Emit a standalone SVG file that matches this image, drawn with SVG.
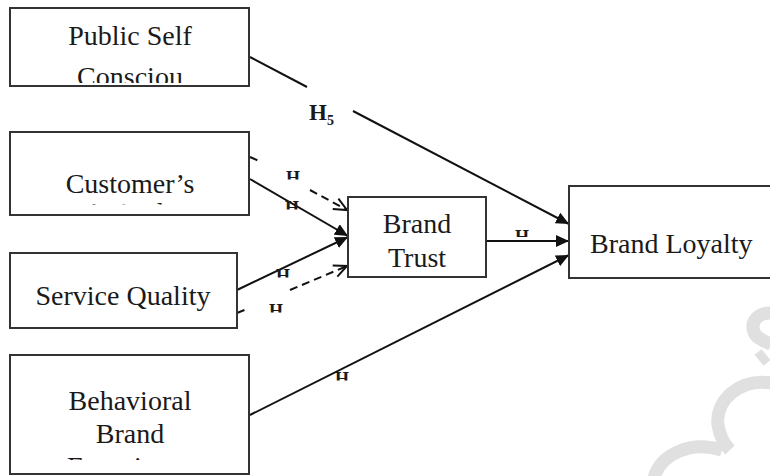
<svg xmlns="http://www.w3.org/2000/svg" width="770" height="476" viewBox="0 0 770 476">
<style>
.box{fill:#fff;stroke:#333;stroke-width:2}
.t{font-family:"Liberation Serif","Times New Roman",serif;font-size:28px;fill:#1a1a1a}
.h{font-family:"Liberation Serif","Times New Roman",serif;font-size:18px;font-weight:bold;fill:#1a1a1a}
.ln{stroke:#111;stroke-width:2;fill:none}
.ds{stroke:#111;stroke-width:2;fill:none;stroke-dasharray:8 5}
.wm{stroke:#e0e0e0;stroke-width:13;fill:none;stroke-linecap:butt}
</style>
<defs>
<marker id="af" markerUnits="userSpaceOnUse" markerWidth="14" markerHeight="12" refX="13" refY="6" orient="auto"><path d="M0,0 L13,6 L0,12 z" fill="#111"/></marker>
<marker id="ao" markerUnits="userSpaceOnUse" markerWidth="16" markerHeight="14" refX="14" refY="7" orient="auto"><path d="M1,1 L14,7 L1,13" fill="none" stroke="#111" stroke-width="2"/></marker>
<clipPath id="c1"><rect x="11" y="9" width="237" height="74"/></clipPath>
<clipPath id="c2"><rect x="11" y="133" width="237" height="71.5"/></clipPath>
<clipPath id="c4"><rect x="11" y="356" width="237" height="104"/></clipPath>
<clipPath id="c5"><rect x="349" y="198" width="136" height="70"/></clipPath>
<clipPath id="h1"><rect x="280" y="170" width="25" height="9.5"/></clipPath>
<clipPath id="h2"><rect x="280" y="200" width="25" height="9.5"/></clipPath>
<clipPath id="h3"><rect x="270" y="268" width="25" height="9.5"/></clipPath>
<clipPath id="h4"><rect x="263" y="303" width="25" height="9.5"/></clipPath>
<clipPath id="h5"><rect x="510" y="229" width="25" height="8"/></clipPath>
<clipPath id="h6"><rect x="330" y="371" width="25" height="9.5"/></clipPath>
</defs>

<g id="watermark">
<path class="wm" d="M772,313 C758,312 750,322 754,332 C757,340 768,342 772,345"/>
<path class="wm" d="M758,352 L767,363" style="stroke-width:9"/>
<path class="wm" d="M772,383 C740,378 715,400 718,425 C720,438 725,445 730,450"/>
<path class="wm" d="M654,478 C660,455 690,440 722,450"/>
</g>

<g id="connectors">
<path class="ln" d="M250,57 L307,87"/>
<path class="ln" d="M353,111 L569,224" marker-end="url(#af)"/>
<path class="ds" d="M250,157 L259,161"/>
<path class="ds" d="M310,190 L347,210" marker-end="url(#ao)"/>
<path class="ln" d="M250,179 L348,236" marker-end="url(#af)"/>
<path class="ln" d="M237,290 L348,237" marker-end="url(#af)"/>
<path class="ds" d="M237,313 L247,309"/>
<path class="ds" d="M290,290 L347,266" marker-end="url(#ao)"/>
<path class="ln" d="M486,241 L569,241" marker-end="url(#af)"/>
<path class="ln" d="M250,415 L569,255" marker-end="url(#af)"/>
<g id="labels">
<text x="309" y="120" class="h" style="font-size:23px">H<tspan dy="5" style="font-size:14px">5</tspan></text>
<text x="286" y="184" class="h" clip-path="url(#h1)">H</text>
<text x="285" y="214" class="h" clip-path="url(#h2)">H</text>
<text x="276" y="282" class="h" clip-path="url(#h3)">H</text>
<text x="269" y="317" class="h" clip-path="url(#h4)">H</text>
<text x="515" y="243" class="h" clip-path="url(#h5)">H</text>
<text x="335" y="385" class="h" clip-path="url(#h6)">H</text>
</g>
</g>

<g id="public-self">
<rect class="box" x="10" y="8" width="239" height="78"/>
<g clip-path="url(#c1)">
<text class="t" x="130" y="45" text-anchor="middle">Public Self</text>
<text class="t" x="130" y="86" text-anchor="middle">Consciou</text>
</g>
</g>

<g id="customers">
<rect class="box" x="10" y="132" width="239" height="83"/>
<g clip-path="url(#c2)">
<text class="t" x="130" y="193" text-anchor="middle">Customer’s</text>
<text class="t" x="130" y="222" text-anchor="middle">Attitude</text>
</g>
</g>

<g id="service-quality">
<rect class="box" x="10" y="253" width="227" height="75"/>
<text class="t" x="123" y="305" text-anchor="middle">Service Quality</text>
</g>

<g id="behavioral">
<rect class="box" x="10" y="355" width="239" height="119"/>
<g clip-path="url(#c4)">
<text class="t" x="130" y="410" text-anchor="middle">Behavioral</text>
<text class="t" x="130" y="443" text-anchor="middle">Brand</text>
<text class="t" x="130" y="476" text-anchor="middle">Experience</text>
</g>
</g>

<g id="brand-trust">
<rect class="box" x="348" y="197" width="138" height="80"/>
<g clip-path="url(#c5)">
<text class="t" x="417" y="233" text-anchor="middle">Brand</text>
<text class="t" x="417" y="267" text-anchor="middle">Trust</text>
</g>
</g>

<g id="brand-loyalty">
<rect class="box" x="569" y="186" width="220" height="92"/>
<text class="t" x="590" y="253">Brand Loyalty</text>
</g>
</svg>
